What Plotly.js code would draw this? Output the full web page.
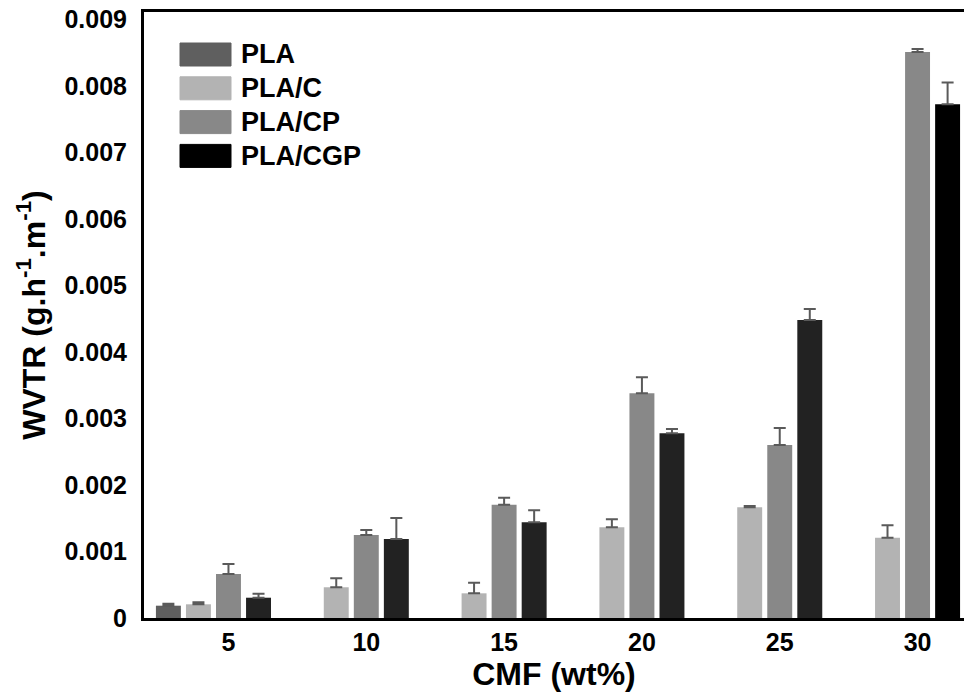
<!DOCTYPE html>
<html>
<head>
<meta charset="utf-8">
<script src="https://cdn.plot.ly/plotly-3.0.1.min.js"></script>
<style>html,body{margin:0;padding:0;background:#fff;}#chart{width:964px;height:696px;}</style>
</head>
<body>
<div id="chart"></div>
<script>
// ---- data ----
const categories = ['5', '10', '15', '20', '25', '30'];
const seriesNames = ['PLA', 'PLA/C', 'PLA/CP', 'PLA/CGP'];

const pla       = [0.000185, null, null, null, null, null];
const plaErr    = [0.00003, null, null, null, null, null];

const plaC      = [0.000206, 0.000462, 0.000371, 0.001364, 0.001665, 0.001208];
const plaCErr   = [0.00003, 0.000135, 0.00016, 0.00012, 0.00002, 0.000186];

const plaCP     = [0.000662, 0.001248, 0.001704, 0.003379, 0.002602, 0.008507];
const plaCPErr  = [0.00015, 0.000075, 0.000105, 0.00024, 0.000256, 0.000045];

const plaCGP    = [0.000305, 0.001188, 0.001439, 0.002777, 0.004481, 0.007725];
const plaCGPErr = [0.00006, 0.000316, 0.00018, 0.000065, 0.000165, 0.000325];

const yTickVals   = [0, 0.001, 0.002, 0.003, 0.004, 0.005, 0.006, 0.007, 0.008, 0.009];
const yTickLabels = ['0', '0.001', '0.002', '0.003', '0.004', '0.005', '0.006', '0.007', '0.008', '0.009'];

// ---- styling ----
const seriesValues = [pla, plaC, plaCP, plaCGP];
const seriesErrors = [plaErr, plaCErr, plaCPErr, plaCGPErr];
const legendColors = ['#5f5f5f', '#b3b3b3', '#888888', '#000000'];
const barColors = [
  '#5f5f5f',
  '#b3b3b3',
  '#888888',
  categories.map((c, i) => i === categories.length - 1 ? '#000000' : '#222222')
];
const barW = 0.181, step = 0.218;
const fontFam = 'Liberation Sans, Arial, Helvetica, sans-serif';

const traces = seriesNames.map((name, k) => ({
  type: 'bar',
  name: name,
  x: categories,
  y: seriesValues[k],
  width: barW,
  offset: -barW / 2 + (k - 2) * step,
  marker: { color: barColors[k], line: { width: 0 } },
  error_y: {
    type: 'data',
    symmetric: false,
    array: seriesErrors[k],
    arrayminus: seriesErrors[k].map(() => 0),
    color: '#5a5a5a',
    thickness: 2,
    width: 6
  },
  showlegend: false,
  hoverinfo: 'x+y+name'
}));

// legend drawn as swatches + text (plot area: x 144..964, y 12..618 px)
const M = { l: 144, r: 0, t: 12, b: 78 };
const W = 964, H = 696;
const pw = W - M.l - M.r, ph = H - M.t - M.b;
const px2x = p => (p - M.l) / pw;
const px2y = p => (H - M.b - p) / ph;
const shapes = [], annotations = [];
seriesNames.forEach((name, k) => {
  const top = 43 + k * 33.8, bot = top + 23;
  shapes.push({
    type: 'rect', xref: 'paper', yref: 'paper',
    x0: px2x(180), x1: px2x(231), y0: px2y(bot), y1: px2y(top),
    fillcolor: legendColors[k], line: { color: legendColors[k], width: 1 }
  });
  annotations.push({
    xref: 'paper', yref: 'paper', x: px2x(239), y: px2y((top + bot) / 2),
    xanchor: 'left', yanchor: 'middle', showarrow: false, text: name,
    font: { family: fontFam, size: 27, weight: 'bold', color: '#000' }
  });
});

const layout = {
  width: W, height: H,
  margin: M,
  paper_bgcolor: '#fff', plot_bgcolor: '#fff',
  barmode: 'overlay',
  showlegend: false,
  xaxis: {
    type: 'category',
    range: [-0.613, 5.337],
    showline: true, linecolor: '#000', linewidth: 3, mirror: true,
    showgrid: false, zeroline: false, ticks: '',
    ticklabelstandoff: 0,
    tickfont: { family: fontFam, size: 25, weight: 'bold', color: '#000' },
    title: { text: 'CMF (wt%)', standoff: 6,
             font: { family: fontFam, size: 32, weight: 'bold', color: '#000' } }
  },
  yaxis: {
    range: [0, 0.00911],
    tickvals: yTickVals, ticktext: yTickLabels,
    showline: true, linecolor: '#000', linewidth: 3, mirror: false,
    showgrid: false, zeroline: false, ticks: '',
    ticklabelstandoff: 9,
    tickfont: { family: fontFam, size: 25, weight: 'bold', color: '#000' },
    title: { text: 'WVTR (g.h<sup>-1</sup>.m<sup>-1</sup>)', standoff: 10,
             font: { family: fontFam, size: 32, weight: 'bold', color: '#000' } }
  },
  shapes: shapes,
  annotations: annotations
};

Plotly.newPlot('chart', traces, layout, { displayModeBar: false, staticPlot: true });
</script>
</body>
</html>
